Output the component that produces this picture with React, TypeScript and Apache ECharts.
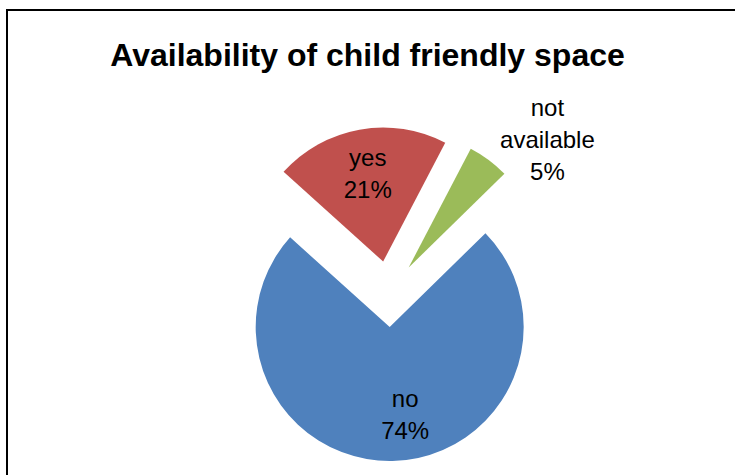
import React, { useEffect, useRef } from "react";
import * as echarts from "echarts";

const categories = ["yes", "not available", "no"];
const values = [21, 5, 74];
const colors = ["#C0504D", "#9BBB59", "#4F81BD"];
const labelShifts: [number, number][] = [
  [-3, -19],
  [97, -72],
  [14, 18],
];
const titleText = "Availability of child friendly space";

export default function App() {
  const ref = useRef<HTMLDivElement>(null);
  useEffect(() => {
    document.body.style.margin = "0";
    const chart = echarts.init(ref.current!, null, { renderer: "svg" });
    chart.setOption({
      animation: false,
      backgroundColor: "#ffffff",
      title: {
        text: titleText,
        left: "center",
        top: 34,
        textStyle: {
          fontFamily: "'Liberation Sans', Arial",
          fontWeight: "bold",
          fontSize: 32,
          color: "#000000",
        },
      },
      graphic: [
        {
          type: "rect",
          shape: { x: 7, y: 10, width: 760, height: 500 },
          style: { fill: "none", stroke: "#000000", lineWidth: 2 },
          silent: true,
        },
      ],
      series: [
        {
          type: "pie",
          center: [389, 294],
          radius: [0, 134],
          startAngle: 138,
          clockwise: true,
          selectedMode: "multiple",
          selectedOffset: 33,
          avoidLabelOverlap: false,
          emphasis: { disabled: true },
          itemStyle: { borderWidth: 0 },
          labelLine: { show: false },
          labelLayout: (p: any) => ({
            dx: labelShifts[p.dataIndex][0],
            dy: labelShifts[p.dataIndex][1],
          }),
          label: {
            show: true,
            position: "inside",
            formatter: (p: any) =>
              p.name.replace(" ", "\n") + "\n" + Math.round(p.percent) + "%",
            fontFamily: "'Liberation Sans', Arial",
            fontSize: 24,
            lineHeight: 32,
            color: "#000000",
            align: "center",
          },
          data: categories.map((name, i) => ({
            name,
            value: values[i],
            selected: true,
            itemStyle: { color: colors[i] },
            select: { itemStyle: { color: colors[i] } },
          })),
        },
      ],
    });
    return () => chart.dispose();
  }, []);
  return <div ref={ref} style={{ width: 735, height: 475 }} />;
}
